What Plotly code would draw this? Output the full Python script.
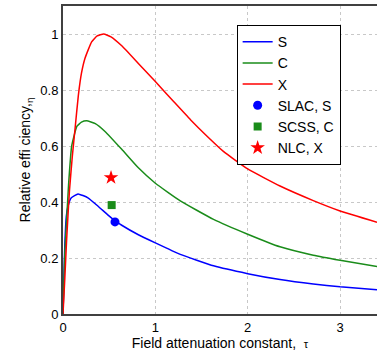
import plotly.graph_objects as go

# S-band curve
tau_s = [0, 0.01, 0.02, 0.036, 0.054, 0.09, 0.163, 0.27, 0.38, 0.488, 0.563, 0.636, 0.816, 1.0, 1.27, 1.63, 2.0, 2.35, 2.71, 3.0, 3.4]
eta_s = [0, 0.13, 0.25, 0.349, 0.385, 0.415, 0.429, 0.415, 0.385, 0.353, 0.333, 0.317, 0.283, 0.254, 0.213, 0.172, 0.144, 0.123, 0.107, 0.097, 0.087]
# C-band curve
tau_c = [0, 0.01, 0.02, 0.04, 0.06, 0.094, 0.15, 0.2, 0.256, 0.35, 0.455, 0.636, 0.816, 1.0, 1.27, 1.63, 2.0, 2.35, 2.71, 3.0, 3.4]
eta_c = [0, 0.12, 0.22, 0.34, 0.46, 0.60, 0.67, 0.685, 0.69, 0.68, 0.652, 0.588, 0.522, 0.467, 0.404, 0.338, 0.285, 0.240, 0.210, 0.192, 0.170]
# X-band curve
tau_x = [0, 0.02, 0.04, 0.07, 0.1, 0.13, 0.166, 0.2, 0.24, 0.31, 0.37, 0.44, 0.52, 0.636, 0.816, 1.0, 1.2, 1.38, 1.56, 1.74, 2.0, 2.35, 2.71, 3.0, 3.4]
eta_x = [0, 0.13, 0.27, 0.44, 0.56, 0.66, 0.78, 0.86, 0.915, 0.972, 0.993, 1.0, 0.99, 0.958, 0.895, 0.83, 0.758, 0.694, 0.635, 0.58, 0.518, 0.457, 0.405, 0.368, 0.328]

# Existing machines
tau_slac, eta_slac = [0.563], [0.329]
tau_scss, eta_scss = [0.527], [0.389]
tau_nlc, eta_nlc = [0.52], [0.487]

BLUE = "#0000ff"
GREEN = "#1a8c1a"
RED = "#ff0000"

fig = go.Figure()
fig.add_trace(go.Scatter(x=tau_s, y=eta_s, mode="lines", name="S",
                         line=dict(color=BLUE, width=1.5, shape="spline", smoothing=0.4)))
fig.add_trace(go.Scatter(x=tau_c, y=eta_c, mode="lines", name="C",
                         line=dict(color=GREEN, width=1.5, shape="spline", smoothing=0.4)))
fig.add_trace(go.Scatter(x=tau_x, y=eta_x, mode="lines", name="X",
                         line=dict(color=RED, width=1.5, shape="spline", smoothing=0.4)))
fig.add_trace(go.Scatter(x=tau_slac, y=eta_slac, mode="markers", name="SLAC, S",
                         marker=dict(color=BLUE, size=9, symbol="circle")))
fig.add_trace(go.Scatter(x=tau_scss, y=eta_scss, mode="markers", name="SCSS, C",
                         marker=dict(color=GREEN, size=8, symbol="square")))
fig.add_trace(go.Scatter(x=tau_nlc, y=eta_nlc, mode="markers", name="NLC, X",
                         marker=dict(color=RED, size=11, symbol="star")))

font = "Liberation Sans, Arial, sans-serif"
fig.update_layout(
    width=377, height=353,
    margin=dict(l=63, r=0, t=6, b=39),
    plot_bgcolor="white", paper_bgcolor="white",
    font=dict(family=font, size=13, color="black"),
    showlegend=True,
    legend=dict(x=0.553, y=0.938, xanchor="left", yanchor="top",
                bgcolor="white", bordercolor="black", borderwidth=1,
                font=dict(size=14, family=font), tracegroupgap=0,
                itemwidth=30),
    xaxis=dict(range=[0, 3.4], tickvals=[0, 1, 2, 3], ticktext=["0", "1", "2", "3"],
               showgrid=True, gridcolor="#c8c8c8", griddash="dot", gridwidth=1,
               showline=True, linecolor="#404040", linewidth=2, mirror=True,
               ticks="", zeroline=False, automargin=False,
               title=dict(text="Field attenuation constant,  <span style='font-size:11px'>τ</span>",
                          font=dict(size=14), standoff=2)),
    yaxis=dict(range=[0, 1.1], tickvals=[0, 0.2, 0.4, 0.6, 0.8, 1.0],
               ticktext=["0", "0.2", "0.4", "0.6", "0.8", "1"],
               showgrid=True, gridcolor="#c8c8c8", griddash="dot", gridwidth=1,
               showline=True, linecolor="#404040", linewidth=2, mirror=False,
               ticks="", zeroline=False, automargin=False,
               title=dict(text="Relative effi ciency,<sub>η</sub>", font=dict(size=14), standoff=6)),
)

fig.write_html("out.html", config={"displayModeBar": False},
               post_script="document.body.style.margin='0';document.body.style.padding='0';document.body.style.overflow='hidden';")
